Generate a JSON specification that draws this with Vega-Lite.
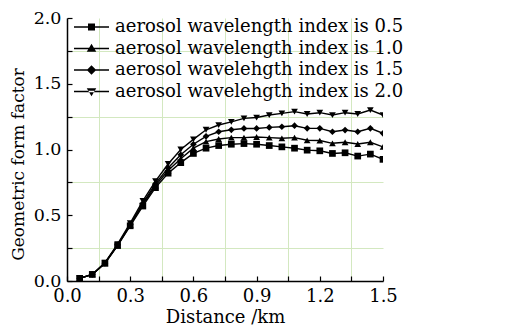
{
"$schema": "https://vega.github.io/schema/vega-lite/v6.json",
"width": 316, "height": 263,
"autosize": {"type": "none"},
"padding": {"left": 67, "top": 18, "right": 127, "bottom": 46},
"background": "white",
"config": {
  "view": {"stroke": null},
  "font": "DejaVu Serif",
  "axis": {"domainColor": "black", "domainWidth": 1.5, "tickColor": "black", "tickWidth": 1.2, "tickSize": -5, "labelPadding": 11, "labelFontSize": 18, "labelColor": "black", "labelFont": "DejaVu Serif", "titleFont": "DejaVu Serif", "titleFontSize": 18, "titleColor": "black", "titleFontWeight": "normal", "gridColor": "#d3e8c0", "gridWidth": 1, "labelFlush": false, "labelOverlap": false}
},
"data": {"values": [
{"x":0.06,"a":0.02,"b":0.02,"c":0.02,"d":0.02},
{"x":0.12,"a":0.05,"b":0.05,"c":0.05,"d":0.05},
{"x":0.18,"a":0.135,"b":0.135,"c":0.135,"d":0.14},
{"x":0.24,"a":0.27,"b":0.27,"c":0.275,"d":0.28},
{"x":0.30,"a":0.42,"b":0.425,"c":0.43,"d":0.44},
{"x":0.36,"a":0.57,"b":0.58,"c":0.59,"d":0.61},
{"x":0.42,"a":0.71,"b":0.725,"c":0.74,"d":0.76},
{"x":0.48,"a":0.82,"b":0.84,"c":0.86,"d":0.89},
{"x":0.54,"a":0.90,"b":0.93,"c":0.96,"d":1.0},
{"x":0.60,"a":0.97,"b":1.01,"c":1.04,"d":1.077},
{"x":0.66,"a":1.01,"b":1.06,"c":1.10,"d":1.15},
{"x":0.72,"a":1.03,"b":1.08,"c":1.135,"d":1.186},
{"x":0.78,"a":1.04,"b":1.09,"c":1.15,"d":1.21},
{"x":0.84,"a":1.045,"b":1.09,"c":1.16,"d":1.237},
{"x":0.90,"a":1.04,"b":1.095,"c":1.16,"d":1.243},
{"x":0.96,"a":1.03,"b":1.09,"c":1.168,"d":1.262},
{"x":1.02,"a":1.02,"b":1.085,"c":1.173,"d":1.275},
{"x":1.08,"a":1.01,"b":1.09,"c":1.181,"d":1.288},
{"x":1.14,"a":0.995,"b":1.07,"c":1.161,"d":1.27},
{"x":1.20,"a":0.99,"b":1.068,"c":1.161,"d":1.28},
{"x":1.26,"a":0.97,"b":1.047,"c":1.135,"d":1.262},
{"x":1.32,"a":0.975,"b":1.055,"c":1.148,"d":1.28},
{"x":1.38,"a":0.95,"b":1.042,"c":1.135,"d":1.27},
{"x":1.44,"a":0.965,"b":1.055,"c":1.161,"d":1.30},
{"x":1.50,"a":0.925,"b":1.02,"c":1.123,"d":1.262}
]},
"transform": [{"fold": ["a", "b", "c", "d"], "as": ["series", "value"]}],
"encoding": {
  "x": {"field": "x", "type": "quantitative", "scale": {"domain": [0, 1.5], "nice": false, "zero": false},
    "axis": {"title": "Distance /km", "values": [0, 0.15, 0.3, 0.45, 0.6, 0.75, 0.9, 1.05, 1.2, 1.35, 1.5],
      "labelExpr": "round(datum.value / 0.15) % 2 == 0 ? format(datum.value, '.1f') : ''",
      "gridOpacity": {"condition": {"test": "round(datum.value / 0.15) % 2 == 1", "value": 1}, "value": 0},
      "titlePadding": 3}},
  "y": {"field": "value", "type": "quantitative", "scale": {"domain": [0, 2], "nice": false},
    "axis": {"title": "Geometric form factor", "values": [0, 0.25, 0.5, 0.75, 1, 1.25, 1.5, 1.75, 2],
      "labelExpr": "round(datum.value / 0.25) % 2 == 0 ? format(datum.value, '.1f') : ''",
      "gridOpacity": {"condition": {"test": "round(datum.value / 0.25) % 2 == 1", "value": 1}, "value": 0},
      "labelFontSize": 17.5, "titleFontSize": 17, "titlePadding": 6, "titleY": 146}}
},
"resolve": {"scale": {"shape": "independent"}, "legend": {"shape": "independent"}},
"layer": [
  {"mark": {"type": "line", "color": "black", "strokeWidth": 1.4, "clip": true},
   "encoding": {"detail": {"field": "series"}}},
  {"mark": {"type": "point", "filled": true, "color": "black", "size": 45, "opacity": 1, "clip": true},
   "encoding": {"shape": {"field": "series", "type": "nominal",
     "scale": {"domain": ["a", "b", "c", "d"], "range": ["square", "triangle-up", "diamond", "triangle-down"]},
     "legend": null}}},
  {"mark": {"type": "point", "filled": true, "color": "black", "size": 100, "opacity": 0, "clip": true},
   "encoding": {"shape": {"field": "series", "type": "nominal",
     "scale": {"domain": ["a", "b", "c", "d"], "range": [
       "M-1,-0.16H6V0.16H-1ZM1.8,-0.7H3.2V0.7H1.8Z",
       "M-1,-0.16H6V0.16H-1ZM2.5,-0.95L3.45,0.65H1.55Z",
       "M-1,-0.16H6V0.16H-1ZM2.5,-0.95L3.45,0L2.5,0.95L1.55,0Z",
       "M-1,-0.16H6V0.16H-1ZM2.5,0.95L3.45,-0.65H1.55Z"]},
     "legend": {"orient": "none", "legendX": 3, "legendY": 0, "title": null, "padding": 0,
       "labelExpr": "datum.value == 'a' ? 'aerosol wavelength index is 0.5' : datum.value == 'b' ? 'aerosol wavelength index is 1.0' : datum.value == 'c' ? 'aerosol wavelehgth index is 1.5' : 'aerosol wavelehgth index is 2.0'",
       "labelFont": "DejaVu Serif", "labelFontSize": 18, "labelColor": "black", "labelOffset": 27, "labelLimit": 400,
       "symbolSize": 100, "symbolFillColor": "black", "symbolStrokeColor": "black", "symbolStrokeWidth": 0, "symbolOpacity": 1, "rowPadding": 3.5}}}}
]
}
